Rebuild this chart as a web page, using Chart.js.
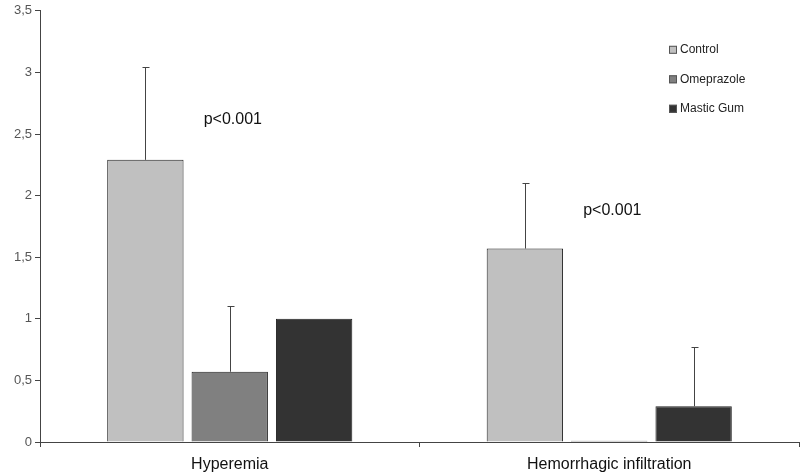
<!DOCTYPE html>
<html>
<head>
<meta charset="utf-8">
<script src="https://cdn.jsdelivr.net/npm/chart.js@4.4.0/dist/chart.umd.min.js"></script>
<style>
  html, body { margin: 0; padding: 0; background: #fff; }
  #wrap { width: 810px; height: 475px; }
</style>
</head>
<body>
<div id="wrap"><canvas id="chartID"></canvas></div>
<script>
'use strict';

const categories = ['Hyperemia', 'Hemorrhagic infiltration'];
const seriesNames = ['Control', 'Omeprazole', 'Mastic Gum'];
const controlVals = [2.29, 1.57];
const omeprazoleVals = [0.57, 0.01];
const masticVals = [1.0, 0.29];
const controlErr = [0.75, 0.53];
const omeprazoleErr = [0.53, 0];
const masticErr = [0, 0.48];
const yTicks = [0, 0.5, 1, 1.5, 2, 2.5, 3, 3.5];
const pLabels = ['p<0.001', 'p<0.001'];
const pLabelY = [2.62, 1.88];

const colors = ['#c0c0c0', '#808080', '#333333'];

// error bars, legend and p-value text
const extras = {
  id: 'extras',
  afterDatasetsDraw(chart) {
    const ctx = chart.ctx;
    const errs = [controlErr, omeprazoleErr, masticErr];
    const yScale = chart.scales.y;
    ctx.save();
    ctx.strokeStyle = '#444';
    ctx.lineWidth = 1;
    for (let d = 0; d < chart.data.datasets.length; d++) {
      const meta = chart.getDatasetMeta(d);
      const vals = chart.data.datasets[d].data;
      for (let i = 0; i < meta.data.length; i++) {
        if (!errs[d][i]) continue;
        const x = Math.round(meta.data[i].x) + 0.5;
        const yTop = yScale.getPixelForValue(vals[i] + errs[d][i]);
        const yBar = yScale.getPixelForValue(vals[i]);
        ctx.beginPath();
        ctx.moveTo(x, yBar);
        ctx.lineTo(x, Math.round(yTop) + 0.5);
        ctx.moveTo(x - 3, Math.round(yTop) + 0.5);
        ctx.lineTo(x + 4, Math.round(yTop) + 0.5);
        ctx.stroke();
      }
    }

    // p values
    ctx.fillStyle = '#111';
    ctx.font = '16px "Liberation Sans", Arial, sans-serif';
    ctx.textAlign = 'center';
    ctx.textBaseline = 'middle';
    const xScale = chart.scales.x;
    const catW = xScale.getPixelForValue(1) - xScale.getPixelForValue(0);
    for (let i = 0; i < pLabels.length; i++) {
      const x = xScale.getPixelForValue(i) + catW * 0.008;
      ctx.fillText(pLabels[i], x, yScale.getPixelForValue(pLabelY[i]));
    }

    // legend
    const area = chart.chartArea;
    const lx = area.right - 130;
    let ly = area.top + 39;
    ctx.font = '12px "Liberation Sans", Arial, sans-serif';
    ctx.textAlign = 'left';
    for (let s = 0; s < seriesNames.length; s++) {
      ctx.fillStyle = colors[s];
      ctx.fillRect(lx, ly - 4, 8, 8);
      ctx.strokeStyle = '#555';
      ctx.strokeRect(lx + 0.5, ly - 3.5, 7, 7);
      ctx.fillStyle = '#222';
      ctx.fillText(seriesNames[s], lx + 11, ly);
      ly += 29.5;
    }
    ctx.restore();
  }
};

const data = {
  labels: categories,
  datasets: [
    { label: seriesNames[0], data: controlVals, backgroundColor: colors[0] },
    { label: seriesNames[1], data: omeprazoleVals, backgroundColor: colors[1] },
    { label: seriesNames[2], data: masticVals, backgroundColor: colors[2] }
  ]
};
data.datasets.forEach(ds => {
  ds.borderColor = '#222';
  ds.borderWidth = 1;
  ds.categoryPercentage = 0.667;
  ds.barPercentage = 0.905;
});

const config = {
  type: 'bar',
  data: data,
  options: {
    responsive: true,
    maintainAspectRatio: false,
    animation: false,
    layout: { padding: { top: 8, right: 11, left: 0, bottom: 0 } },
    plugins: {
      legend: { display: false },
      tooltip: { enabled: false }
    },
    scales: {
      y: {
        min: 0,
        max: 3.5,
        afterBuildTicks(scale) {
          scale.ticks = yTicks.map(v => ({ value: v }));
        },
        afterFit(scale) { scale.width = 40; },
        grid: {
          display: true,
          drawOnChartArea: false,
          drawTicks: true,
          tickLength: 5,
          color: '#444'
        },
        border: { display: true, color: '#444', width: 1 },
        ticks: {
          color: '#555',
          padding: 3,
          font: { family: '"Liberation Sans", Arial, sans-serif', size: 13 },
          callback: v => String(v).replace('.', ',')
        }
      },
      x: {
        afterFit(scale) { scale.height = 33; },
        grid: {
          display: true,
          offset: true,
          drawOnChartArea: false,
          drawTicks: true,
          tickLength: 5,
          color: '#444'
        },
        border: { display: true, color: '#444', width: 1 },
        ticks: {
          color: '#111',
          padding: 8,
          font: { family: '"Liberation Sans", Arial, sans-serif', size: 16 }
        }
      }
    }
  },
  plugins: [extras]
};

const barChart = new Chart(document.getElementById('chartID'), config);
</script>
</body>
</html>
